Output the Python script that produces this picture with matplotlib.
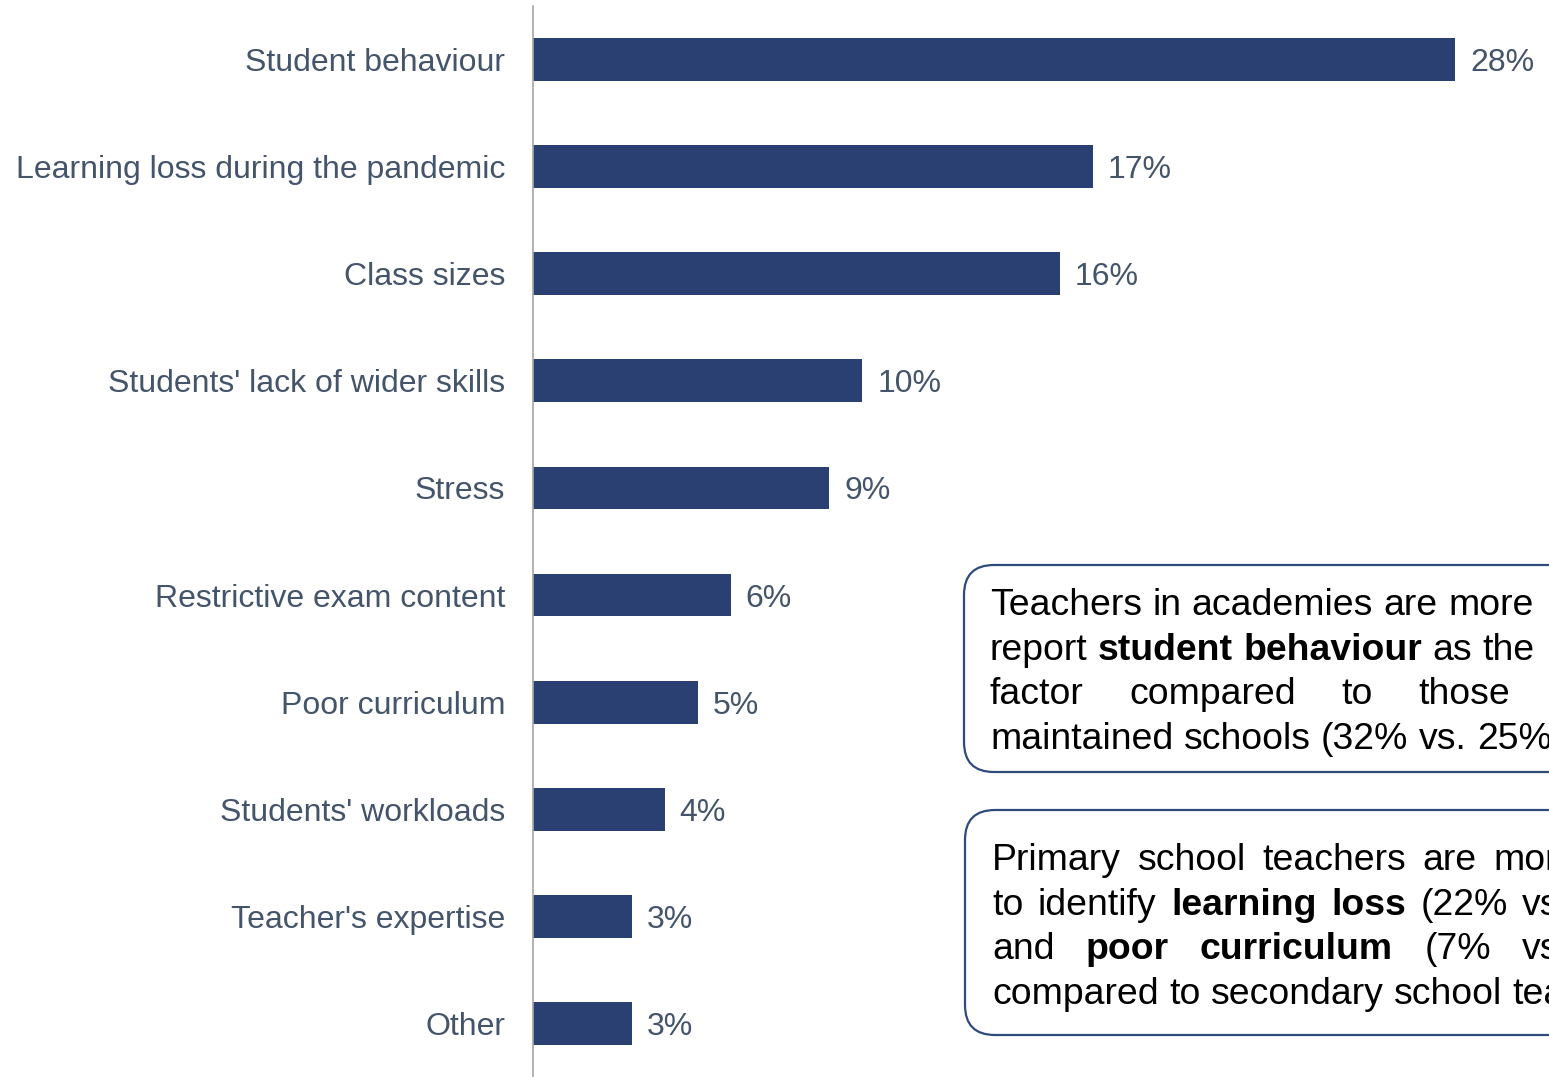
import matplotlib
matplotlib.use("Agg")
import matplotlib.pyplot as plt
from matplotlib.patches import FancyBboxPatch
from matplotlib.transforms import IdentityTransform

# ---------------- data ----------------
categories = [
    "Student behaviour",
    "Learning loss during the pandemic",
    "Class sizes",
    "Students' lack of wider skills",
    "Stress",
    "Restrictive exam content",
    "Poor curriculum",
    "Students' workloads",
    "Teacher's expertise",
    "Other",
]
values = [28, 17, 16, 10, 9, 6, 5, 4, 3, 3]
value_labels = [f"{v}%" for v in values]

note1_lines = [
    [("Teachers in academies are more", False)],
    [("report", False), ("student behaviour", True), ("as the", False)],
    [("factor compared to those", False)],
    [("maintained schools (32% vs. 25%)", False)],
]
note2_lines = [
    [("Primary school teachers are more", False)],
    [("to identify", False), ("learning loss", True), ("(22% vs.", False)],
    [("and", False), ("poor curriculum", True), ("(7% vs.", False)],
    [("compared to secondary school teachers.", False)],
]

# ---------------- style ----------------
W, H, DPI = 1549, 1077, 100
BAR_COLOR = "#2A3F72"
LABEL_COLOR = "#44546A"
AXIS_COLOR = "#A6A6A6"
BOX_EDGE = "#2F4A7D"
FONT = "Liberation Sans"

plt.rcParams["font.family"] = [FONT, "DejaVu Sans"]

fig = plt.figure(figsize=(W / DPI, H / DPI), dpi=DPI)
ax = fig.add_axes([533 / W, 0, 1 - 533 / W, (H - 6) / H])

y = list(range(len(categories)))
ax.barh(y, values, height=0.40, color=BAR_COLOR, zorder=2)
ax.set_ylim(len(categories) - 0.5, -0.5)
ax.set_xlim(0, 30.85)

ax.set_yticks(y)
ax.set_yticklabels(categories, fontsize=23, color=LABEL_COLOR)
ax.tick_params(axis="y", length=0, pad=20)
ax.set_xticks([])
for s in ["top", "right", "bottom"]:
    ax.spines[s].set_visible(False)
ax.spines["left"].set_color(AXIS_COLOR)
ax.spines["left"].set_linewidth(1.2)

for yi, v, lab in zip(y, values, value_labels):
    ax.annotate(lab, xy=(v, yi), xytext=(15, 0), textcoords="offset pixels",
                ha="left", va="center_baseline", fontsize=23, color=LABEL_COLOR)

# ---------------- annotation boxes ----------------
ident = IdentityTransform()


def add_box(left, top, bottom):
    p = FancyBboxPatch((left, H - bottom), 800, bottom - top,
                       boxstyle="round,pad=0,rounding_size=30",
                       transform=ident, facecolor="white",
                       edgecolor=BOX_EDGE, linewidth=1.6, zorder=3)
    fig.add_artist(p)


renderer = fig.canvas.get_renderer()
NOTE_FS = 26.9
space_px = 0.278 * NOTE_FS * DPI / 72


def draw_lines(lines, x0, baselines, stretches):
    for segs, yb, st in zip(lines, baselines, stretches):
        x = x0
        for text, bold in segs:
            for word in text.split(" "):
                t = fig.text(x, H - yb, word, transform=ident, fontsize=NOTE_FS,
                             fontweight="bold" if bold else "normal",
                             color="black", ha="left", va="baseline", zorder=4)
                wbb = t.get_window_extent(renderer)
                x += wbb.width + space_px * st


add_box(964, 565, 772)
draw_lines(note1_lines, 990, [615, 660, 704, 749], [1.0, 1.0, 4.4, 1.0])

add_box(965, 810, 1035)
draw_lines(note2_lines, 992, [870, 915, 959, 1004], [1.6, 1.4, 3.0, 1.0])

fig.savefig("out.png", dpi=DPI, facecolor="white")
